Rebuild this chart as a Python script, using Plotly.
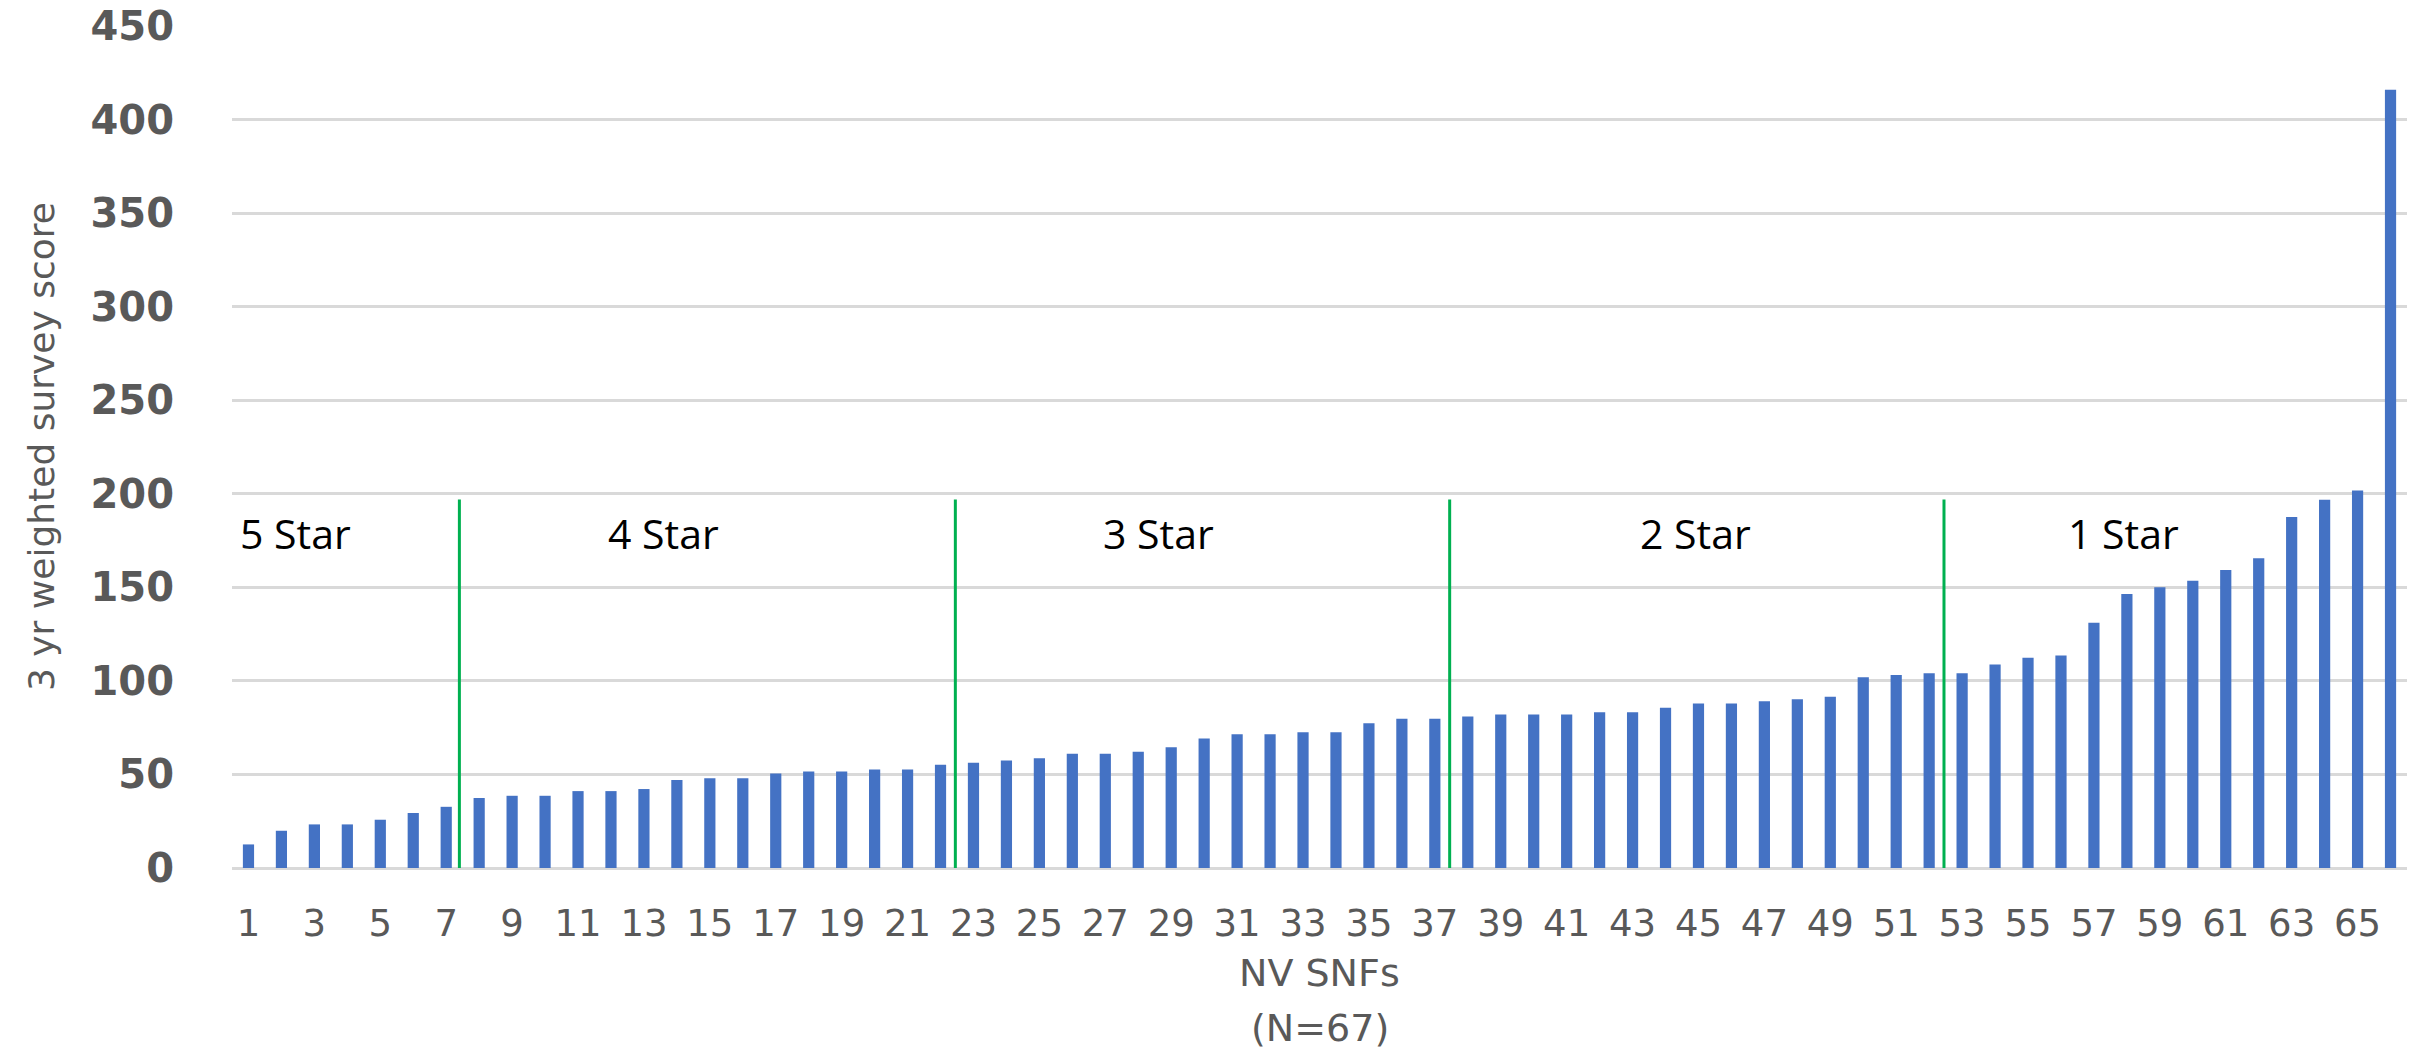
import plotly.graph_objects as go

# Nevada skilled nursing facilities, sorted by 3-year weighted survey score
facility_rank = list(range(1, 67))
survey_score = [
    12.6, 19.9, 23.3, 23.3, 25.8, 29.4, 32.7,
    37.4, 38.6, 38.6, 41.1, 41.1, 42.2, 47.0, 48.0, 48.0, 50.5, 51.6, 51.6, 52.7, 52.7, 55.2,
    56.2, 57.5, 58.7, 61.0, 61.0, 62.1, 64.6, 69.2, 71.5, 71.5, 72.6, 72.6, 77.4, 79.7, 79.7,
    81.0, 82.0, 82.0, 82.0, 83.3, 83.3, 85.6, 87.9, 87.9, 89.1, 90.2, 91.5, 102.0, 103.2, 104.1,
    104.1, 108.7, 112.3, 113.6, 131.1, 146.4, 150.1, 153.5, 159.3, 165.5, 187.6, 196.8, 201.7, 415.9,
]
x_tick_values = list(range(1, 67, 2))
x_tick_labels = [str(v) for v in x_tick_values]
y_tick_values = list(range(0, 451, 50))

# star-rating cut points between facilities, and the band names
star_cut_points = [7.4, 22.45, 37.45, 52.45]
star_cut_height = 197
star_band_names = ["5 Star", "4 Star", "3 Star", "2 Star", "1 Star"]
star_band_label_x = [2.44, 13.6, 28.6, 44.9, 57.9]
star_band_label_y = 179

GRAY = "#595959"
GRID = "#D9D9D9"

fig = go.Figure()

fig.add_trace(go.Bar(
    x=facility_rank,
    y=survey_score,
    width=0.34,
    marker=dict(color="#4472C4", line=dict(width=0)),
    hoverinfo="x+y",
    showlegend=False,
))

# vertical green dividers between star bands
line_x, line_y = [], []
for cut in star_cut_points:
    line_x += [cut, cut, None]
    line_y += [0, star_cut_height, None]
fig.add_trace(go.Scatter(
    x=line_x, y=line_y, mode="lines",
    line=dict(color="#00B050", width=3),
    hoverinfo="skip", showlegend=False,
))

for name, lx in zip(star_band_names, star_band_label_x):
    fig.add_annotation(
        x=lx, y=star_band_label_y, xref="x", yref="y",
        text=name, showarrow=False,
        font=dict(family="Open Sans", size=41, color="#000000"),
        xanchor="center", yanchor="middle",
    )

# axis titles
fig.add_annotation(
    x=-0.0878, y=0.5, xref="paper", yref="paper",
    text="3 yr weighted survey score", textangle=-90, showarrow=False,
    font=dict(family="DejaVu Sans", size=36, color=GRAY),
    xanchor="center", yanchor="middle",
)
fig.add_annotation(
    x=0.5, y=-0.125, xref="paper", yref="paper",
    text="NV SNFs", showarrow=False,
    font=dict(family="DejaVu Sans", size=38, color=GRAY),
    xanchor="center", yanchor="middle",
)
fig.add_annotation(
    x=0.5, y=-0.19, xref="paper", yref="paper",
    text="(N=67)", showarrow=False,
    font=dict(family="DejaVu Sans", size=38, color=GRAY),
    xanchor="center", yanchor="middle",
)

fig.update_layout(
    width=2425, height=1050,
    margin=dict(l=232, r=18, t=26, b=182, autoexpand=False),
    paper_bgcolor="white", plot_bgcolor="white",
    bargap=0.66,
    xaxis=dict(
        range=[0.5, 66.5],
        tickmode="array", tickvals=x_tick_values, ticktext=x_tick_labels,
        tickangle=0,
        showgrid=False, zeroline=False, showline=False, ticks="",
        tickfont=dict(family="DejaVu Sans", size=37, color=GRAY),
        ticklabelstandoff=30,
    ),
    yaxis=dict(
        range=[0, 450],
        tickmode="array", tickvals=y_tick_values,
        showgrid=True, gridcolor=GRID, gridwidth=2.5,
        zeroline=True, zerolinecolor=GRID, zerolinewidth=2.5,
        showline=False, ticks="",
        tickfont=dict(family="DejaVu Sans", size=40, color=GRAY, weight="bold"),
        ticklabelstandoff=57,
    ),
)

fig.write_html("out.html")
